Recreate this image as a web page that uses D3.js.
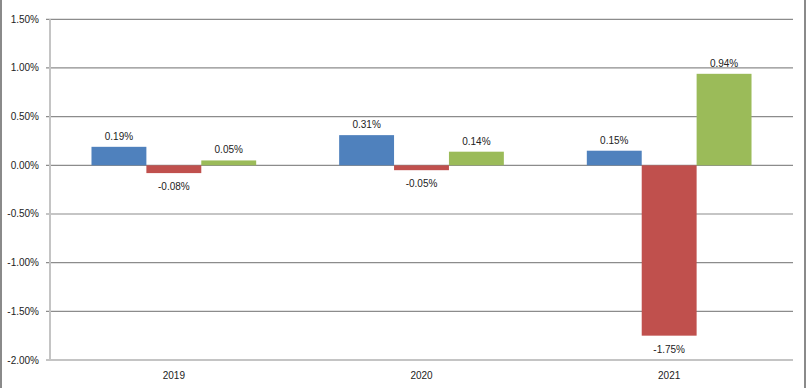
<!DOCTYPE html>
<html>
<head>
<meta charset="utf-8">
<script src="https://cdn.jsdelivr.net/npm/d3@7"></script>
<style>
  body { margin: 0; background: #fff; }
  svg text { font-family: "Liberation Sans", Arial, sans-serif; font-size: 10px; fill: #222; }
</style>
</head>
<body>
<div id="container"></div>
<script>
// chart data
var years = ['2019', '2020', '2021']
var seriesNames = ['s1', 's2', 's3']
var s1 = [0.19, 0.31, 0.15]
var s2 = [-0.08, -0.05, -1.75]
var s3 = [0.05, 0.14, 0.94]
var yTicks = [1.5, 1.0, 0.5, 0.0, -0.5, -1.0, -1.5, -2.0]
var colors = ['#4f81bd', '#c0504d', '#9bbb59']

var WIDTH = 806
var HEIGHT = 388
var plotLeft = 50, plotRight = 793, plotTop = 19.3, plotBottom = 360

var svg = d3.select('div#container').append('svg')
  .attr('width', WIDTH)
  .attr('height', HEIGHT)

// outer frame lines
svg.append('line').attr('x1', 1).attr('x2', 1).attr('y1', 0).attr('y2', HEIGHT)
  .attr('stroke', '#8a8a8a').attr('stroke-width', 2)
svg.append('line').attr('x1', 805).attr('x2', 805).attr('y1', 0).attr('y2', HEIGHT)
  .attr('stroke', '#8a8a8a').attr('stroke-width', 2)

var y = d3.scaleLinear().domain([-2, 1.5]).range([plotBottom, plotTop])
var x0 = d3.scaleBand().domain(years).range([plotLeft, plotRight])
  .paddingInner(0.335).paddingOuter(0.1675)
var x1 = d3.scaleBand().domain(seriesNames).range([0, x0.bandwidth()])

// gridlines
svg.append('g').selectAll('line').data(yTicks.filter(function (d) { return d > -2 }))
  .enter().append('line')
  .attr('x1', plotLeft - 4).attr('x2', plotRight)
  .attr('y1', function (d) { return y(d) }).attr('y2', function (d) { return y(d) })
  .attr('stroke', '#8c8c8c').attr('stroke-width', 1.2)

// bottom line and left axis line
svg.append('line').attr('x1', plotLeft - 4).attr('x2', plotRight)
  .attr('y1', y(-2)).attr('y2', y(-2))
  .attr('stroke', '#c4c4c4').attr('stroke-width', 2.2)
svg.append('line').attr('x1', plotLeft).attr('x2', plotLeft)
  .attr('y1', plotTop).attr('y2', plotBottom)
  .attr('stroke', '#c4c4c4').attr('stroke-width', 2)

// y tick labels
var fmt = function (d) { return d.toFixed(2) + '%' }
svg.append('g').selectAll('text').data(yTicks).enter().append('text')
  .attr('x', 39).attr('y', function (d) { return y(d) + 3.5 })
  .attr('text-anchor', 'end')
  .text(fmt)

// category labels
svg.append('g').selectAll('text').data(years).enter().append('text')
  .attr('x', function (d) { return x0(d) + x0.bandwidth() / 2 })
  .attr('y', 379)
  .attr('text-anchor', 'middle')
  .text(function (d) { return d })

var allSeries = [s1, s2, s3]
var groups = svg.append('g').selectAll('g').data(years).enter().append('g')
  .attr('transform', function (d) { return 'translate(' + x0(d) + ',0)' })

groups.each(function (yr, i) {
  var g = d3.select(this)
  var vals = allSeries.map(function (s, k) { return { k: k, v: s[i] } })
  g.selectAll('rect').data(vals).enter().append('rect')
    .attr('x', function (d) { return x1(seriesNames[d.k]) })
    .attr('width', x1.bandwidth())
    .attr('y', function (d) { return y(Math.max(0, d.v)) })
    .attr('height', function (d) { return Math.abs(y(d.v) - y(0)) })
    .attr('fill', function (d) { return colors[d.k] })
  g.selectAll('text').data(vals).enter().append('text')
    .attr('x', function (d) { return x1(seriesNames[d.k]) + x1.bandwidth() / 2 })
    .attr('y', function (d) { return d.v >= 0 ? y(d.v) - 7 : y(d.v) + 17 })
    .attr('text-anchor', 'middle')
    .text(function (d) { return fmt(d.v) })
})
</script>
</body>
</html>
